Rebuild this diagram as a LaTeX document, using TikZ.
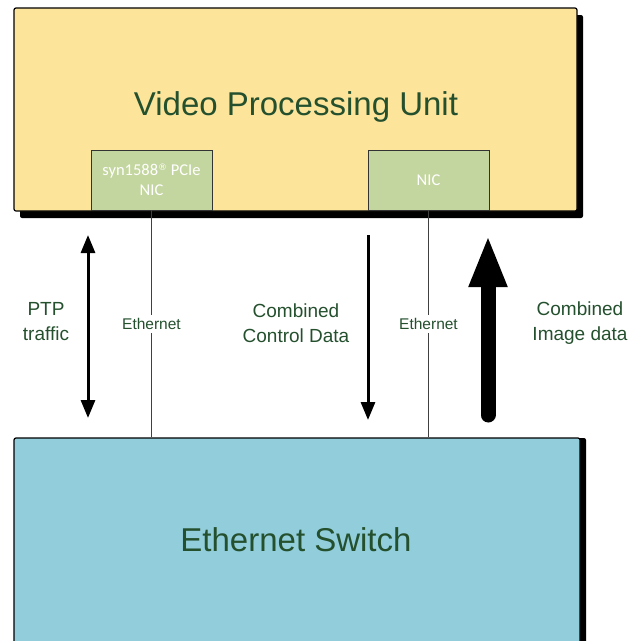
\documentclass[tikz,border=0pt]{standalone}
\usepackage{fontspec}
\setmainfont{Liberation Sans}
\newfontfamily\nicfont{Carlito}
\newfontfamily\regfont{DejaVu Sans}
\usetikzlibrary{arrows.meta,shadows}
\definecolor{vpufill}{HTML}{FDE49B}
\definecolor{nicfill}{HTML}{C4D6A0}
\definecolor{swfill}{HTML}{92CDDC}
\definecolor{txtgreen}{HTML}{24502E}
\newcommand{\regmark}{{\regfont\fontsize{9}{9}\selectfont\raisebox{5.5pt}{®}}}
\tikzset{
  bigbox/.style={draw=black, line width=1.2pt, rounded corners=2pt, inner sep=0pt},
  nicbox/.style={draw=black!80, line width=0.8pt, fill=nicfill, inner sep=0pt,
    minimum width=121pt, minimum height=60pt, text=white, align=center,
    font=\nicfont\fontsize{16.5}{20}\selectfont},
  title/.style={text=txtgreen, font=\fontsize{33}{38}\selectfont},
  lbl/.style={text=txtgreen, align=center, font=\fontsize{19}{25}\selectfont},
  ethlbl/.style={text=txtgreen, fill=white, inner sep=3pt, font=\fontsize{15.5}{17}\selectfont},
  ethline/.style={draw=black!75, line width=0.8pt},
  flow/.style={line width=3pt, -{Triangle[width=14pt,length=18pt]}},
}
\begin{document}
\begin{tikzpicture}[x=1pt,y=-1pt]
\useasboundingbox (0,0) rectangle (629,641);
\clip (0,0) rectangle (629,641);
% Video Processing Unit
\node[bigbox, fill=vpufill, minimum width=563pt, minimum height=203pt,
  drop shadow={shadow xshift=6pt, shadow yshift=-7pt, fill=black, opacity=1}]
  (vpu) at (295.5,109.5) {};
\node[title] (vputitle) at (296,107) {Video Processing Unit};
\node[nicbox] (nic1) at (151.5,180) {syn1588\regmark\ PCIe\\NIC};
\node[nicbox] (nic2) at (428.5,180) {NIC};
% Ethernet Switch
\node[bigbox, fill=swfill, minimum width=566pt, minimum height=260pt,
  drop shadow={shadow xshift=6pt, shadow yshift=0pt, fill=black, opacity=1}]
  (sw) at (297,568) {};
\node[title] (swtitle) at (296,540) {Ethernet Switch};
% Ethernet links
\draw[ethline] (nic1.south) -- node[ethlbl] (eth1) {Ethernet} (nic1.south |- sw.north);
\draw[ethline] (nic2.south) -- node[ethlbl] (eth2) {Ethernet} (nic2.south |- sw.north);
% flow arrows
\coordinate (ptpT) at (88,235);
\coordinate (ptpB) at (88,418);
\coordinate (ctlT) at (368,235);
\coordinate (ctlB) at (368,420);
\coordinate (imgT) at (488,235);
\coordinate (imgB) at (488,415);
\draw[flow, {Triangle[width=14pt,length=18pt]}-{Triangle[width=14pt,length=18pt]}] (ptpT) -- (ptpB);
\draw[flow] (ctlT) -- (ctlB);
\draw[line width=15pt, line cap=round, -{Triangle[width=35pt,length=52pt]}] (imgB) -- (imgT);
% labels
\node[lbl] (ptplbl) at (46,322) {PTP\\traffic};
\node[lbl] (ctllbl) at (296,323) {Combined\\Control Data};
\node[lbl] (imglbl) at (580,323) {Combined\\Image data};
\end{tikzpicture}
\end{document}
